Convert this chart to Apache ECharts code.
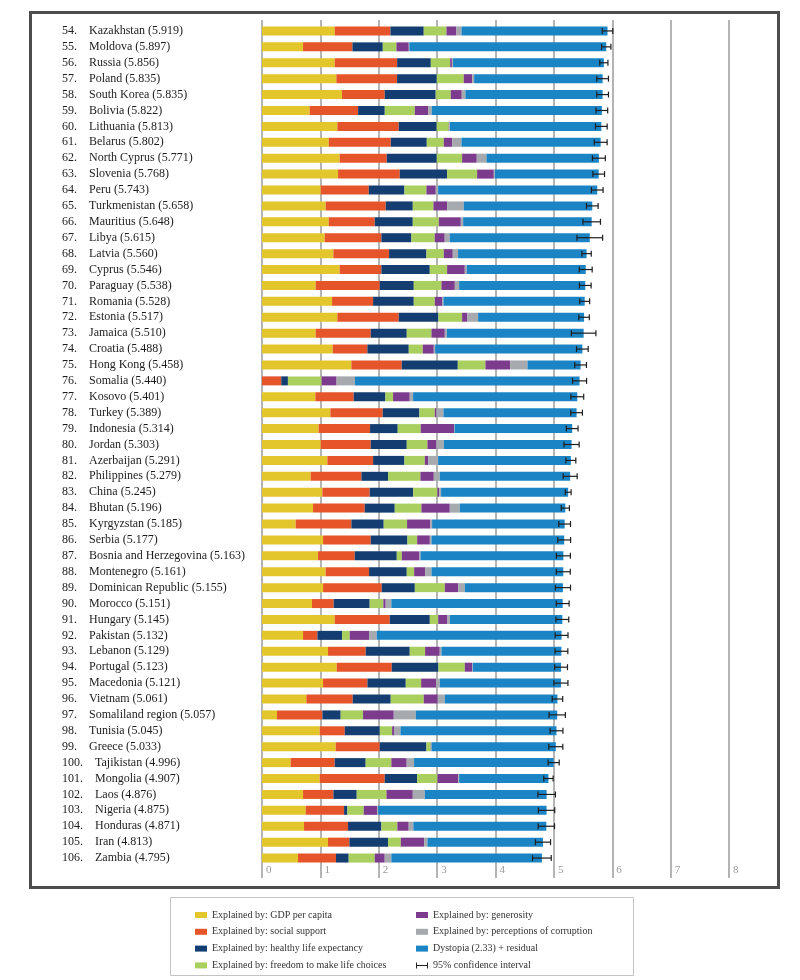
<!DOCTYPE html>
<html>
<head>
<meta charset="utf-8">
<script src="https://cdn.jsdelivr.net/npm/echarts@6/dist/echarts.min.js"></script>
<style>
html,body{margin:0;padding:0;background:#fff;}
#chart{width:800px;height:980px;}
</style>
</head>
<body>
<div id="chart"></div>
<script>
const ranks = [54,55,56,57,58,59,60,61,62,63,64,65,66,67,68,69,70,71,72,73,74,75,76,77,78,79,80,81,82,83,84,85,86,87,88,89,90,91,92,93,94,95,96,97,98,99,100,101,102,103,104,105,106];
const countries = ["Kazakhstan","Moldova","Russia","Poland","South Korea","Bolivia","Lithuania","Belarus","North Cyprus","Slovenia","Peru","Turkmenistan","Mauritius","Libya","Latvia","Cyprus","Paraguay","Romania","Estonia","Jamaica","Croatia","Hong Kong","Somalia","Kosovo","Turkey","Indonesia","Jordan","Azerbaijan","Philippines","China","Bhutan","Kyrgyzstan","Serbia","Bosnia and Herzegovina","Montenegro","Dominican Republic","Morocco","Hungary","Pakistan","Lebanon","Portugal","Macedonia","Vietnam","Somaliland region","Tunisia","Greece","Tajikistan","Mongolia","Laos","Nigeria","Honduras","Iran","Zambia"];
const scores = [5.919,5.897,5.856,5.835,5.835,5.822,5.813,5.802,5.771,5.768,5.743,5.658,5.648,5.615,5.560,5.546,5.538,5.528,5.517,5.510,5.488,5.458,5.440,5.401,5.389,5.314,5.303,5.291,5.279,5.245,5.196,5.185,5.177,5.163,5.161,5.155,5.151,5.145,5.132,5.129,5.123,5.121,5.061,5.057,5.045,5.033,4.996,4.907,4.876,4.875,4.871,4.813,4.795];
const gdp = [1.246,0.703,1.246,1.274,1.371,0.817,1.291,1.143,1.331,1.303,1.006,1.091,1.143,1.074,1.223,1.331,0.920,1.200,1.291,0.920,1.211,1.531,0.000,0.914,1.171,0.971,1.006,1.120,0.834,1.034,0.874,0.577,1.046,0.960,1.091,1.046,0.857,1.246,0.703,1.131,1.280,1.046,0.760,0.257,0.989,1.263,0.491,0.989,0.703,0.749,0.720,1.131,0.617];
const social = [0.954,0.846,1.069,1.040,0.731,0.829,1.051,1.063,0.806,1.057,0.823,1.029,0.789,0.971,0.954,0.714,1.097,0.703,1.051,0.943,0.594,0.863,0.330,0.657,0.897,0.880,0.857,0.783,0.869,0.811,0.886,0.954,0.817,0.629,0.743,1.006,0.371,0.943,0.246,0.646,0.943,0.760,0.794,0.777,0.429,0.754,0.754,1.114,0.520,0.657,0.754,0.366,0.651];
const health = [0.571,0.520,0.577,0.680,0.874,0.457,0.651,0.617,0.857,0.811,0.611,0.463,0.651,0.514,0.640,0.829,0.583,0.697,0.680,0.617,0.709,0.960,0.114,0.543,0.629,0.474,0.617,0.537,0.457,0.743,0.514,0.554,0.629,0.720,0.646,0.566,0.617,0.686,0.423,0.754,0.800,0.657,0.651,0.314,0.600,0.800,0.531,0.554,0.400,0.057,0.571,0.663,0.217];
const freedom = [0.389,0.234,0.331,0.463,0.257,0.514,0.206,0.291,0.434,0.514,0.377,0.354,0.446,0.400,0.297,0.297,0.474,0.360,0.406,0.423,0.240,0.474,0.577,0.131,0.263,0.394,0.354,0.349,0.554,0.417,0.457,0.400,0.166,0.086,0.126,0.514,0.234,0.143,0.131,0.263,0.451,0.263,0.566,0.383,0.211,0.074,0.440,0.349,0.509,0.280,0.274,0.217,0.446];
const generosity = [0.171,0.211,0.030,0.143,0.189,0.229,0.010,0.143,0.251,0.286,0.160,0.234,0.377,0.171,0.154,0.303,0.229,0.131,0.091,0.229,0.189,0.423,0.257,0.286,0.029,0.571,0.154,0.057,0.229,0.029,0.486,0.400,0.217,0.303,0.189,0.229,0.040,0.160,0.331,0.251,0.126,0.257,0.240,0.526,0.040,0.010,0.263,0.354,0.451,0.229,0.194,0.400,0.171];
const corruption = [0.086,0.010,0.020,0.034,0.063,0.063,0.010,0.160,0.166,0.017,0.040,0.286,0.040,0.086,0.091,0.034,0.074,0.017,0.183,0.034,0.023,0.297,0.314,0.057,0.120,0.010,0.126,0.171,0.103,0.034,0.171,0.029,0.029,0.017,0.109,0.114,0.097,0.040,0.131,0.029,0.011,0.063,0.120,0.377,0.103,0.005,0.126,0.017,0.206,0.017,0.080,0.057,0.114];
const dystopia = [2.502,3.373,2.583,2.201,2.350,2.913,2.594,2.385,1.926,1.780,2.726,2.201,2.202,2.399,2.201,2.038,2.161,2.420,1.815,2.344,2.522,0.910,3.848,2.813,2.280,2.014,2.189,2.274,2.233,2.177,1.808,2.271,2.273,2.448,2.257,1.680,2.935,1.927,3.167,2.055,1.512,2.075,1.930,2.423,2.673,2.127,2.391,1.530,2.087,2.886,2.278,1.979,2.579];
const ciHalf = [0.09,0.08,0.07,0.10,0.10,0.10,0.10,0.11,0.11,0.10,0.10,0.10,0.15,0.22,0.08,0.11,0.10,0.085,0.09,0.21,0.10,0.10,0.12,0.11,0.10,0.10,0.13,0.085,0.12,0.05,0.07,0.10,0.11,0.12,0.12,0.13,0.11,0.11,0.11,0.11,0.11,0.12,0.09,0.14,0.11,0.12,0.095,0.08,0.15,0.14,0.14,0.13,0.16];
const xTicks = ["0","1","2","3","4","5","6","7","8"];

const seriesNames = [
  "Explained by: GDP per capita",
  "Explained by: social support",
  "Explained by: healthy life expectancy",
  "Explained by: freedom to make life choices",
  "Explained by: generosity",
  "Explained by: perceptions of corruption",
  "Dystopia (2.33) + residual"
];
const ciName = "95% confidence interval";
const colors = ["#E3C52C","#E6552A","#143E71","#A9CF5E","#7D3B8E","#A6AAAE","#1A84C5"];
const values = [gdp, social, health, freedom, generosity, corruption, dystopia];

const serif = "'Liberation Serif', 'DejaVu Serif', serif";

const chart = echarts.init(document.getElementById('chart'), null, {renderer:'canvas'});

const barSeries = seriesNames.map((n, k) => ({
  name: n,
  type: 'bar',
  stack: 'total',
  xAxisIndex: 0,
  yAxisIndex: 0,
  barWidth: 9,
  itemStyle: { color: colors[k] },
  data: values[k],
  silent: true,
  animation: false
}));

const ciData = scores.map((s, i) => [s - ciHalf[i], s + ciHalf[i], i]);

const ciSeries = {
  name: ciName,
  type: 'custom',
  xAxisIndex: 0,
  yAxisIndex: 0,
  z: 5,
  itemStyle: { color: '#1e1e1e' },
  data: ciData,
  encode: { x: [0, 1], y: 2 },
  renderItem: function (params, api) {
    const lo = api.coord([api.value(0), api.value(2)]);
    const hi = api.coord([api.value(1), api.value(2)]);
    const h = 3;
    const st = { stroke: '#1e1e1e', lineWidth: 1.2 };
    return {
      type: 'group',
      children: [
        { type: 'line', shape: { x1: lo[0], y1: lo[1], x2: hi[0], y2: hi[1] }, style: st },
        { type: 'line', shape: { x1: lo[0], y1: lo[1] - h, x2: lo[0], y2: lo[1] + h }, style: st },
        { type: 'line', shape: { x1: hi[0], y1: hi[1] - h, x2: hi[0], y2: hi[1] + h }, style: st }
      ]
    };
  },
  animation: false
};

const legendText = { fontFamily: serif, fontSize: 10, color: '#333', lineHeight: 12 };
const ciIcon = 'path://M0,0h1.6v10h-1.6z M0,4.2h20v1.6h-20z M18.4,0h1.6v10h-1.6z';

const option = {
  animation: false,
  backgroundColor: '#fff',
  grid: [
    { left: 262, right: 71, top: 23, bottom: 114 },
    { left: 262, right: 71, top: 20, bottom: 102 }
  ],
  xAxis: [
    { type: 'value', gridIndex: 0, min: 0, max: 8, show: false },
    {
      type: 'value', gridIndex: 1, min: 0, max: 8, interval: 1,
      axisLine: { show: false }, axisTick: { show: false },
      splitLine: { show: true, lineStyle: { color: '#9b9b9b', width: 1.5 } },
      axisLabel: {
        inside: true, align: 'left', verticalAlign: 'bottom', margin: 2,
        padding: [0, 0, 0, 4], color: '#9a9a9a', fontSize: 11, fontFamily: serif,
        formatter: function (v) { return xTicks[Math.round(v)]; }
      }
    }
  ],
  yAxis: [
    {
      type: 'category', gridIndex: 0, inverse: true, data: countries,
      axisLine: { show: false }, axisTick: { show: false }, splitLine: { show: false },
      axisLabel: {
        interval: 0, align: 'left', margin: 200,
        fontFamily: serif, fontSize: 12, color: '#1c1c1c',
        formatter: function (v, i) {
          return ranks[i] + '.\u2003' + v + ' (' + scores[i].toFixed(3) + ')';
        }
      }
    },
    { type: 'value', gridIndex: 1, show: false, min: 0, max: 1 }
  ],
  legend: [
    {
      left: 190, top: 904, orient: 'vertical', itemWidth: 12, itemHeight: 6, itemGap: 4.8,
      textStyle: legendText, selectedMode: false, icon: 'rect',
      data: seriesNames.slice(0, 4)
    },
    {
      left: 411, top: 904, orient: 'vertical', itemWidth: 12, itemHeight: 6, itemGap: 4.8,
      textStyle: legendText, selectedMode: false, icon: 'rect',
      data: [seriesNames[4], seriesNames[5], seriesNames[6], { name: ciName, icon: ciIcon }]
    }
  ],
  graphic: [
    { type: 'rect', left: 28, top: 10, shape: { width: 748, height: 875 },
      style: { fill: 'none', stroke: '#4d4d4d', lineWidth: 3 }, silent: true },
    { type: 'rect', left: 168, top: 895, shape: { width: 463, height: 78 },
      style: { fill: 'none', stroke: '#c4c4c4', lineWidth: 1 }, silent: true }
  ],
  series: barSeries.concat([ciSeries])
};

chart.setOption(option);
</script>
</body>
</html>
